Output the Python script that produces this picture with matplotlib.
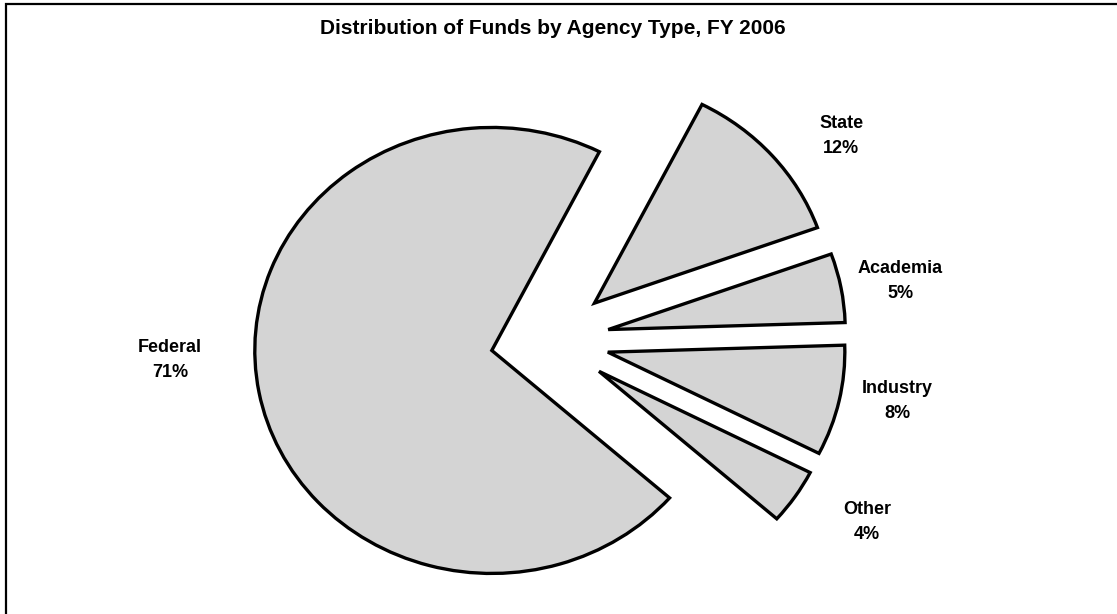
import matplotlib
matplotlib.use('Agg')
import matplotlib.pyplot as plt
from matplotlib.patches import Rectangle

# ==========================================
# DATA
# ==========================================
categories = ['State', 'Academia', 'Industry', 'Other', 'Federal']
shares = [12, 5, 8, 4, 71]
pct_labels = ['12%', '5%', '8%', '4%', '71%']
title = 'Distribution of Funds by Agency Type, FY 2006'

# layout (data units of the pie, radius = 1)
label_pos = [(1.228, 0.915), (1.477, 0.265), (1.464, -0.274), (1.338, -0.816), (-1.603, -0.090)]
explode = [0.25] * len(shares)

plt.rcParams['font.family'] = ['Liberation Sans', 'DejaVu Sans']

fig = plt.figure(figsize=(11.17, 6.14), dpi=100)
ax = fig.add_axes([0, 0, 1, 1])

wedges, _ = ax.pie(
    shares,
    explode=explode,
    startangle=63,
    counterclock=False,
    colors=['#d4d4d4'] * len(shares),
    wedgeprops=dict(edgecolor='black', linewidth=2.4, joinstyle='miter'),
)

for name, pct, (x, y) in zip(categories, pct_labels, label_pos):
    ax.text(x, y, f'{name}\n{pct}', ha='center', va='center',
            fontsize=13, fontweight='bold', linespacing=1.6)

# pie center at pixel (550, 340), radius 237 px wide, 223 px tall
ax.set_aspect('auto')
ax.set_xlim(-550 / 237, (1117 - 550) / 237)
ax.set_ylim(-(614 - 340) / 223, 340 / 223)
ax.axis('off')

fig.text(553 / 1117, 1 - 28 / 614, title, ha='center', va='center',
         fontsize=15, fontweight='bold')

# chart-area frame (only left and top edges visible in the crop)
fig.add_artist(Rectangle((6 / 1117, -0.1), 1.2, 1 - 4 / 614 + 0.1,
                         transform=fig.transFigure, fill=False,
                         edgecolor='black', linewidth=1.6))

fig.savefig('out.png', dpi=100)
